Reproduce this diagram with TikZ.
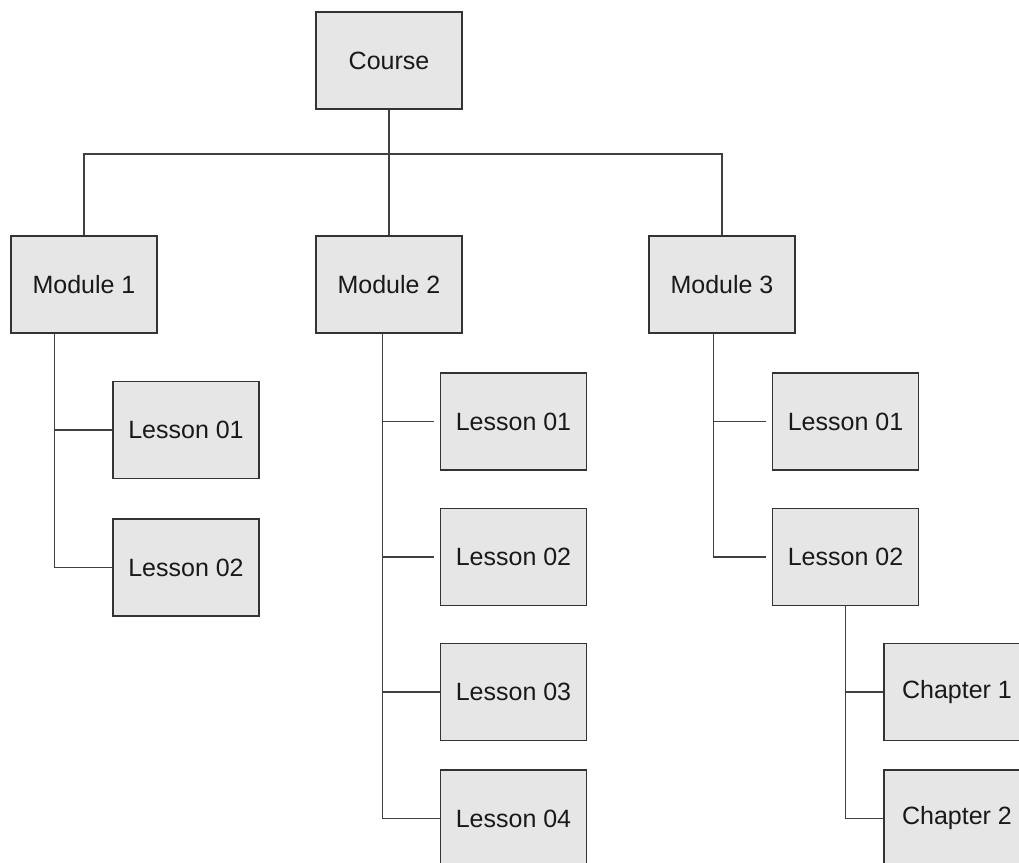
\documentclass[tikz,border=0pt]{standalone}
\usepackage{fontspec}
\setmainfont{Liberation Sans}
\usetikzlibrary{calc}
\definecolor{boxfill}{HTML}{E6E6E6}
\definecolor{boxline}{HTML}{333333}
\definecolor{conn}{HTML}{404040}
\tikzset{
  box/.style={draw=boxline, fill=boxfill, line width=1.4pt, rectangle,
    minimum width=146pt, minimum height=97pt, inner sep=0pt,
    font=\fontsize{25}{30}\selectfont, text=black!90},
  link/.style={draw=conn, line width=1.5pt}
}
\begin{document}
\begin{tikzpicture}[x=1pt,y=-1pt]
\useasboundingbox (0,0) rectangle (1019,862);
\clip (0,0) rectangle (1019,862);
\node[box] (course) at (389,60.5) {Course};
\node[box] (m1) at (84,284.5) {Module 1};
\node[box] (m2) at (389,284.5) {Module 2};
\node[box] (m3) at (722,284.5) {Module 3};
\node[box] (m1l1) at (186,430) {Lesson 01};
\node[box] (m1l2) at (186,567.5) {Lesson 02};
\node[box] (m2l1) at (513.5,421.5) {Lesson 01};
\node[box] (m2l2) at (513.5,557) {Lesson 02};
\node[box] (m2l3) at (513.5,692) {Lesson 03};
\node[box] (m2l4) at (513.5,818.5) {Lesson 04};
\node[box] (m3l1) at (845.5,421.5) {Lesson 01};
\node[box] (m3l2) at (845.5,557) {Lesson 02};
\node[box] (ch1) at (957,692) {Chapter 1};
\node[box] (ch2) at (957,818.5) {Chapter 2};
\coordinate (bus) at (389,154);
\coordinate (m1t) at ($(m1.south west)+(44,0)$);
\coordinate (m2t) at ($(m2.south west)+(67,0)$);
\coordinate (m3t) at ($(m3.south west)+(65,0)$);
\coordinate (m2g1) at ($(m2l1.west)+(-6,0)$);
\coordinate (m2g2) at ($(m2l2.west)+(-6,0)$);
\coordinate (m3g1) at ($(m3l1.west)+(-6,0)$);
\coordinate (m3g2) at ($(m3l2.west)+(-6,0)$);
\path[link] (course.south) -- (m2.north);
\path[link] (m1.north) |- (bus) -| (m3.north);
\path[link] (m1t) |- (m1l1.west);
\path[link] (m1t) |- (m1l2.west);
\path[link] (m2t) |- (m2g1);
\path[link] (m2t) |- (m2g2);
\path[link] (m2t) |- (m2l3.west);
\path[link] (m2t) |- (m2l4.west);
\path[link] (m3t) |- (m3g1);
\path[link] (m3t) |- (m3g2);
\path[link] (m3l2.south) |- (ch1.west);
\path[link] (m3l2.south) |- (ch2.west);
\end{tikzpicture}
\end{document}
